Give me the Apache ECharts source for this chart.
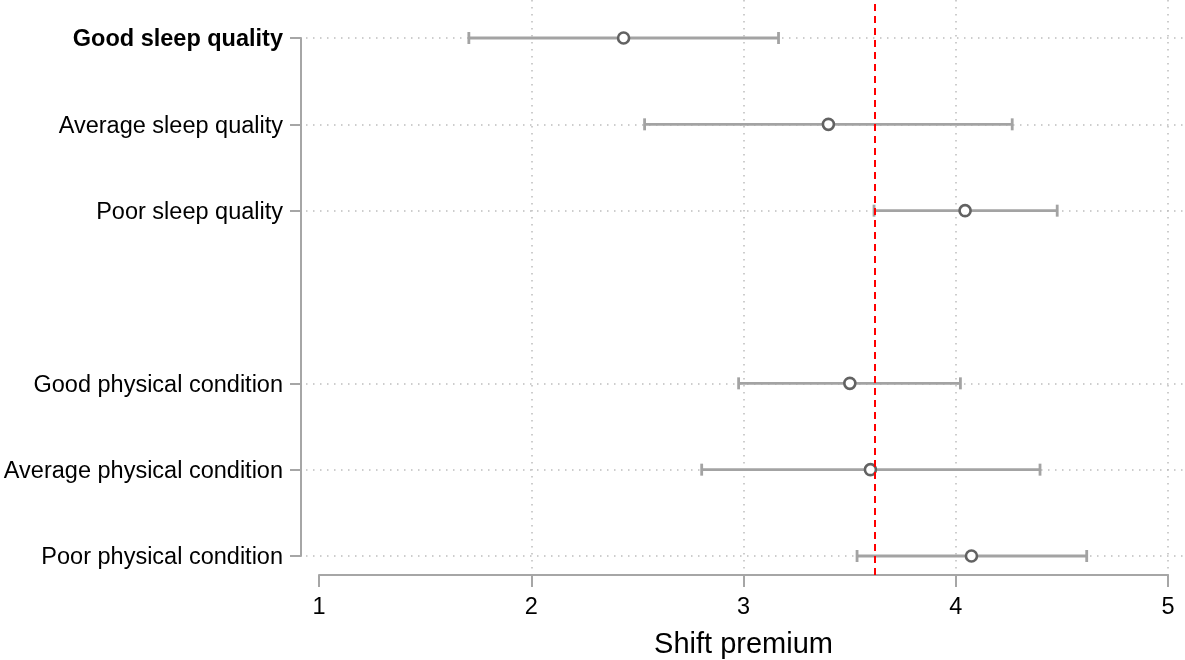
<!DOCTYPE html>
<html>
<head>
<meta charset="utf-8">
<script src="https://cdn.jsdelivr.net/npm/echarts@6/dist/echarts.min.js"></script>
<style>
html,body{margin:0;padding:0;background:#fff;}
#chart{width:1185px;height:660px;}
</style>
</head>
<body>
<div id="chart"></div>
<script>
// ---- data ----
const categories = ['Good sleep quality', 'Average sleep quality', 'Poor sleep quality', '',
  'Good physical condition', 'Average physical condition', 'Poor physical condition'];
const estimates = [2.435, 3.400, 4.044, null, 3.501, 3.598, 4.074];
const ciLow = [1.706, 2.534, 3.615, null, 2.977, 2.803, 3.535];
const ciHigh = [3.165, 4.266, 4.478, null, 4.022, 4.397, 4.617];
const boldCategories = ['Good sleep quality'];
const referenceValue = 3.62;
const xMin = 1, xMax = 5, xStep = 1;
const xTitle = 'Shift premium';

// ---- build ----
const FONT = "'Liberation Sans', Arial, sans-serif";
const LABEL_SIZE = 23.5;
const pointData = [];
const barData = [];
categories.forEach((c, i) => {
  if (estimates[i] != null) {
    pointData.push([estimates[i], i]);
    barData.push([i, ciLow[i], ciHigh[i]]);
  }
});
const isEmpty = (i) => categories[i] === '';

const chart = echarts.init(document.getElementById('chart'), null, {renderer: 'canvas'});
const barStyle = {stroke: '#a3a3a3', lineWidth: 2.8};
chart.setOption({
  animation: false,
  backgroundColor: '#ffffff',
  grid: [
    {left: 319, right: 17, top: 38, bottom: 104, containLabel: false, outerBoundsMode: 'none'},
    {left: 306, right: 0, top: 38, bottom: 104, containLabel: false, outerBoundsMode: 'none'},
    {left: 319, right: 17, top: 0, bottom: 85, containLabel: false, outerBoundsMode: 'none'}
  ],
  xAxis: [
    {
      gridIndex: 0, type: 'value', min: xMin, max: xMax, interval: xStep,
      offset: 19,
      axisLine: {show: true, lineStyle: {color: '#a6a6a6', width: 2}},
      axisTick: {show: true, length: 12, lineStyle: {color: '#a6a6a6', width: 2}},
      axisLabel: {color: '#000', fontSize: LABEL_SIZE, fontFamily: FONT, margin: 21},
      splitLine: {show: false},
      name: xTitle, nameLocation: 'middle', nameGap: 55,
      nameTextStyle: {color: '#000', fontSize: 29, fontFamily: FONT}
    },
    {gridIndex: 1, type: 'value', min: 0, max: 1, show: false},
    {
      gridIndex: 2, type: 'value', min: xMin, max: xMax, interval: xStep,
      axisLine: {show: false}, axisTick: {show: false}, axisLabel: {show: false},
      splitLine: {show: true, lineStyle: {color: ['rgba(0,0,0,0)', '#bdbdbd', '#bdbdbd', '#bdbdbd', '#bdbdbd'], width: 1.5, type: [1.5, 5.5]}}
    }
  ],
  yAxis: [
    {
      gridIndex: 0, type: 'category', data: categories, inverse: true, boundaryGap: false,
      offset: 18,
      axisLine: {show: true, lineStyle: {color: '#a6a6a6', width: 2}},
      axisTick: {show: true, length: 11, interval: (i) => !isEmpty(i), lineStyle: {color: '#a6a6a6', width: 2}},
      axisLabel: {
        interval: 0, margin: 18, color: '#000', fontSize: LABEL_SIZE, fontFamily: FONT,
        padding: [4, 0, 0, 0],
        formatter: (v) => boldCategories.includes(v) ? '{b|' + v + '}' : v,
        rich: {b: {fontWeight: 'bold', fontSize: LABEL_SIZE, fontFamily: FONT, color: '#000'}}
      },
      splitLine: {show: false}
    },
    {
      gridIndex: 1, type: 'category', data: categories, inverse: true, boundaryGap: false,
      axisLine: {show: false}, axisTick: {show: false}, axisLabel: {show: false},
      splitLine: {show: true, interval: (i) => !isEmpty(i), lineStyle: {color: '#bdbdbd', width: 1.5, type: [1.5, 5.5]}}
    },
    {gridIndex: 2, type: 'value', min: 0, max: 1, show: false}
  ],
  series: [
    {
      type: 'line', xAxisIndex: 2, yAxisIndex: 2, data: [[referenceValue, 0]],
      symbol: 'none', lineStyle: {opacity: 0}, silent: true, z: 1,
      markLine: {
        silent: true, symbol: ['none', 'none'], label: {show: false},
        lineStyle: {color: '#ff0000', width: 2, type: [7, 5]},
        data: [{xAxis: referenceValue}]
      }
    },
    {
      type: 'custom', xAxisIndex: 0, yAxisIndex: 0, data: barData,
      encode: {x: [1, 2], y: 0}, clip: false, z: 3,
      renderItem: function (params, api) {
        const y = api.value(0);
        const lo = api.coord([api.value(1), y]);
        const hi = api.coord([api.value(2), y]);
        const h = 6;
        return {
          type: 'group',
          children: [
            {type: 'line', shape: {x1: lo[0], y1: lo[1], x2: hi[0], y2: hi[1]}, style: barStyle},
            {type: 'line', shape: {x1: lo[0], y1: lo[1] - h, x2: lo[0], y2: lo[1] + h}, style: barStyle},
            {type: 'line', shape: {x1: hi[0], y1: hi[1] - h, x2: hi[0], y2: hi[1] + h}, style: barStyle}
          ]
        };
      }
    },
    {
      type: 'scatter', xAxisIndex: 0, yAxisIndex: 0, data: pointData, z: 4,
      symbol: 'circle', symbolSize: 11,
      itemStyle: {color: '#ffffff', borderColor: '#626262', borderWidth: 2.6, opacity: 1}
    }
  ]
});
</script>
</body>
</html>
